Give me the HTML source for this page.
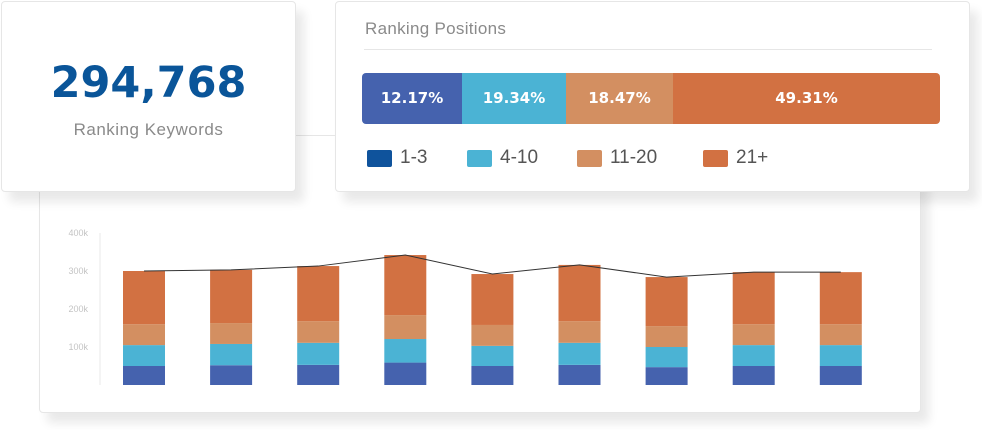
<!DOCTYPE html>
<html><head><meta charset="utf-8"><style>
body{margin:0;width:982px;height:430px;background:#fff;font-family:"Liberation Sans","DejaVu Sans",sans-serif;position:relative;overflow:hidden}
.card{position:absolute;background:#fff;border:1px solid #e6e6e6;border-radius:4px;box-shadow:8px 10px 10px rgba(0,0,0,0.09)}
</style></head><body>
<div class="card" style="left:39px;top:135px;width:880px;height:276px">
<svg id="chart" width="880" height="276"></svg>
</div>
<div class="card" style="left:1px;top:1px;width:293px;height:189px">
<div style="position:absolute;top:56px;width:100%;text-align:center;font-family:'DejaVu Sans',sans-serif;font-weight:bold;font-size:43px;color:#0a5599">294,768</div>
<div style="position:absolute;top:118px;width:100%;text-align:center;font-size:17px;color:#8a8a8a;letter-spacing:0.5px">Ranking Keywords</div>
</div>
<div class="card" style="left:335px;top:1px;width:633px;height:189px">
<div style="position:absolute;left:29px;top:17px;font-size:17px;color:#8a8a8a;letter-spacing:0.3px">Ranking Positions</div>
<div style="position:absolute;left:28px;top:47px;width:568px;border-top:1px solid #e6e6e6"></div>
<div style="position:absolute;left:26px;top:71px;width:578px;height:51px;border-radius:4px;overflow:hidden;display:flex;color:#fff;font-family:'DejaVu Sans',sans-serif;font-weight:bold;font-size:15px;line-height:51px;text-align:center">
<div style="width:100px;background:#4562ae">12.17%</div>
<div style="width:104px;background:#4bb3d4">19.34%</div>
<div style="width:107px;background:#d38f61">18.47%</div>
<div style="flex:1;background:#d27142">49.31%</div>
</div>
<div style="position:absolute;left:31px;top:145px;font-size:19px;color:#555;display:flex;gap:0">
<span style="display:flex;align-items:center;width:100px"><i style="display:inline-block;width:25px;height:17px;background:#0f539c;border-radius:2px;margin-right:8px"></i>1-3</span>
<span style="display:flex;align-items:center;width:110px"><i style="display:inline-block;width:25px;height:17px;background:#4bb3d4;border-radius:2px;margin-right:8px"></i>4-10</span>
<span style="display:flex;align-items:center;width:126px"><i style="display:inline-block;width:25px;height:17px;background:#d38f61;border-radius:2px;margin-right:8px"></i>11-20</span>
<span style="display:flex;align-items:center"><i style="display:inline-block;width:25px;height:17px;background:#d27142;border-radius:2px;margin-right:8px"></i>21+</span>
</div>
</div>
<script>
const categories=["p1","p2","p3","p4","p5","p6","p7","p8","p9"];
const top3=[50,52,53,59,50,53,47,50,50];
const pos4to10=[55,56,58,62,53,58,53,55,55];
const pos11to20=[55,55,57,63,55,57,55,55,55];
const pos21plus=[140,140,145,158,134,148,129,137,137];
const yTicks=[100,200,300,400];
const yTickLabels=["100k","200k","300k","400k"];
const NS="http://www.w3.org/2000/svg";
const svg=document.getElementById('chart');
const ox=39,oy=135;
const y=v=>384-oy-v*0.38;
const x=i=>143-ox+i*87.1;
function mk(t,a){const e=document.createElementNS(NS,t);for(const k in a)e.setAttribute(k,a[k]);svg.appendChild(e);return e;}
const ax=mk('line',{x1:99-ox,x2:99-ox,y1:y(400),y2:y(0),stroke:'#e8e8e8'});


yTicks.forEach((t,i)=>{const e=mk('text',{x:87-ox,y:y(t)+3,'text-anchor':'end','font-size':9,fill:'#c4c4c4'});e.textContent=yTickLabels[i];

});
const series=[top3,pos4to10,pos11to20,pos21plus];
const colors=['#4562ae','#4bb3d4','#d38f61','#d27142'];
const names=['bar-1-3','bar-4-10','bar-11-20','bar-21-plus'];
const totals=[];
categories.forEach((c,i)=>{let cum=0;series.forEach((s,k)=>{const r=mk('rect',{x:x(i)-21,y:y(cum+s[i]),width:42,height:y(cum)-y(cum+s[i]),fill:colors[k]});


cum+=s[i];});totals.push(cum);});
const p=mk('polyline',{points:totals.map((t,i)=>x(i)+','+y(t)).join(' '),fill:'none',stroke:'#333','stroke-width':1});


</script>
</body></html>
